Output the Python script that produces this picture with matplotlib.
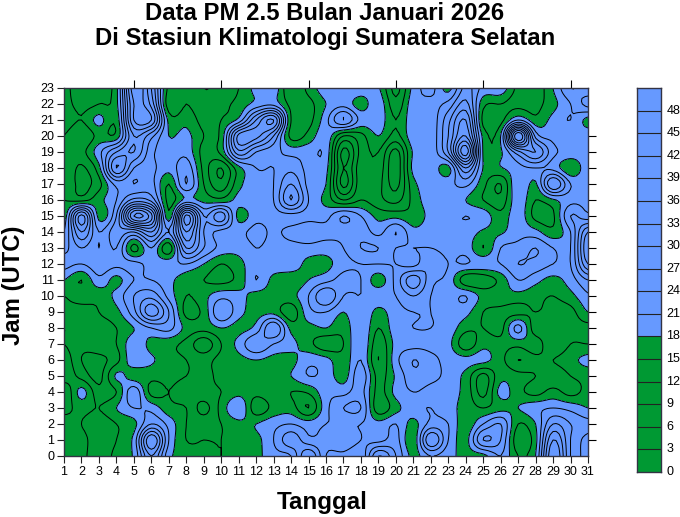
import numpy as np
import matplotlib
matplotlib.use('Agg')
import matplotlib.pyplot as plt
from matplotlib.colors import BoundaryNorm, ListedColormap

plt.rcParams['font.family'] = ['Liberation Sans', 'DejaVu Sans']

# PM 2.5, one row per hour, day 1..31
h00 = [17,16,13,16,18.5,30,19,17,16,15,16,17,20,21,30,21,20,18.5,30,24,17,21,19,17,17,21,15,18,36,24,20]
h01 = [15,16,13,15,19,36,21,15,15,15,16,17,21,26,22,22,24,21,20,22,16,30,21,17,27,24,13,17,33,24,20]
h02 = [16,15,13,15,17,24,20,15,14,15,17,18,20,21,19.5,21,21,21,19,21,17,22,21,16,21,24,15,18,27,24,22]
h03 = [14,16,15,18,21,20,16,15,11,16,21,13,16,16.5,12,20,24,24,13,17,20,21,19,17,15,17,18,20,21,20,18]
h04 = [12,19,13,15,23,14,15,13,14,15,17,16,17,15,15.5,20,20,22,14,19,21,20,19,17,11,19,16,14,16,14,16]
h05 = [17,14,11,18.5,16.5,16,16,15,14,16,17,17,17,18,21,20,16.5,23,14,18.5,23,22,20,17,11,17,16,15,13,15,16]
h06 = [17,12,11,14,20,18.5,16,15,14,16,17,18,17,17,20,19,16,21,12,20,24,22,20,19,19,16,12,14,15,17,19]
h07 = [15,13,14,15,20,17,16,14,10,15,19,24,21,19,16,13,15,21,13,19,20,20,19,13,17,16,16,17,12,15,15]
h08 = [15,14,14,15,18,21,22,17,16,18,17,19,27,17,17,18,16,21,15,20,21,21,20,16,15,14,22,13,14,14,14]
h09 = [14,13,15,17,23,32,24,14,16,24,19,17,17,13,20,21,18,21,17,20,21,21,20,19,15,14,14,15,14,14,18]
h10 = [15,17,16,19,24,26,20,15,17,20,19,17,17,17,21,27,21,21,20,21,24,21,20,21,17,17,17,16,15,17,20.5]
h11 = [18,15,20,17,21,21,19,16,15,14,16,21,17,16,18,20,22,21,16.5,22,29,22,20,13,13,16,21,19,17,19.5,24]
h12 = [22,21,23,22,22,20,20,21,18,15,17,20,20,20,17,17,20,21,21,21,20,24,21,21,20,21,24,23,21,21,33]
h13 = [20,24,21,24,14,21,13,30,24,20,19,21,20,20,20,19.5,21,24,24,21,21,21,20,20,15,21,22,24,21,21,36]
h14 = [18,30,21,26,24,30,21,36,24,20,20,22,20.5,22,23,22,22,23,20,24,19,20,21,20,17.5,17.5,20,19,16,21,33]
h15 = [16,34,17,24,45,40,16,40,24,29,17,20,20,20,20,20,24,21,17,17,16,19,20,21,20,16,20,14,14.5,24,22]
h16 = [15,14,17,21,28,26,14,19,17,16,19,20,21,30,21,17,12,15,13,11,16,20,20,18,15,13,20,15,17.5,20,20]
h17 = [15,11,14,22,21,22,15,24,15,10,17,20,21,27,20,18,5,14,13,8,17,20,20,22,16,12,21,17.5,30,21,20]
h18 = [15,11.5,17,33,24,22,19,23,14,9,17,21,21,23,20,19,6,14,14,7,19,20,17,30,17.8,17.8,20,21,20,15.5,20]
h19 = [15,14,20,27,30,22,19,20,14,16,29,24,22,20,20,20,5,13,15,8,18.5,19,27,44,17.5,17.5,26,30,22,20,20]
h20 = [15,12,16,16,30,25,18,19,15,16,34,34,27,14,16,20,12,14,18,14,20,19,27,36,17,18,45,23,20,19.5,20]
h21 = [17,15,19,16,36,36,17,17,14,15,19,30,36,15,14,20,27,20,20,15,20,19,26,33,14,14,21,16,19,21,17]
h22 = [16,14,15,17,36,32,13,15,13,14,16,19,20,14,14,18,20,16.5,20,13,20,20,22,28,16,15,14,14,17,21,25]
h23 = [16,13,14,17,38,30,14,15,12,13,15,19,20,12,16,20,21,20,18.5,11,19,22,17,25,20,20,14,13,18,24,22]

days = np.arange(1, 32)
hours = np.arange(0, 24)
levels = np.arange(0, 54, 3)
level_labels = [str(v) for v in levels[:-1]]

pm25 = np.array([h00,h01,h02,h03,h04,h05,h06,h07,h08,h09,h10,h11,h12,h13,h14,h15,h16,h17,h18,h19,h20,h21,h22,h23], dtype=float)


# catmull-rom along one axis so the contours come out round like the original
def smooth_axis(z, n):
    z = np.pad(z, ((1, 1), (0, 0)), mode='edge')
    out = []
    for i in range(1, z.shape[0] - 2):
        for t in np.arange(n) / n:
            out.append(0.5 * (2*z[i] + (z[i+1]-z[i-1])*t + (2*z[i-1]-5*z[i]+4*z[i+1]-z[i+2])*t**2
                              + (3*z[i]-z[i-1]-3*z[i+1]+z[i+2])*t**3))
    out.append(z[-2])
    return np.array(out)


n = 6
fine = smooth_axis(pm25, n)
fine = smooth_axis(fine.T, n).T
fine_x = np.linspace(1, 31, fine.shape[1])
fine_y = np.linspace(0, 23, fine.shape[0])

colors = ['#009933']*6 + ['#6699FF']*11
cmap = ListedColormap(colors)
norm = BoundaryNorm(levels, cmap.N)

fig = plt.figure(figsize=(6.8, 5.17), dpi=100)
W, H = 680, 517
ax = fig.add_axes([64/W, (H-456)/H, (588-64)/W, (456-88)/H])
ax.contourf(fine_x, fine_y, fine, levels=levels, cmap=cmap, norm=norm, extend='both')
ax.contour(fine_x, fine_y, fine, levels=levels, colors='black', linewidths=0.7)
ax.set_xlim(1, 31)
ax.set_ylim(0, 23)
ax.set_xticks(days)
ax.set_yticks(hours)
ax.tick_params(labelsize=9, length=5, width=0.8, pad=2, color='#222222')
for s in ax.spines.values():
    s.set_linewidth(1.0)
    s.set_color('#333344')

top = ax.secondary_xaxis('top')
top.set_xticks(days[4::5])
top.set_xticklabels([])
top.tick_params(length=6, width=0.8)
right = ax.secondary_yaxis('right')
right.set_yticks(hours[1:21])
right.set_yticklabels([])
right.tick_params(length=6, width=0.8)
top.spines['top'].set_visible(False)
right.spines['right'].set_visible(False)

# colour scale
cax = fig.add_axes([637/W, (H-472)/H, 24/W, (472-88)/H])
cax.pcolormesh([0, 1], levels, np.array(levels[:-1]).reshape(-1, 1), cmap=cmap, norm=norm)
cax.hlines(levels[1:-1], 0, 1, colors='#222222', linewidth=0.8)
cax.set_xticks([])
cax.set_ylim(0, 51)
cax.set_yticks(levels[:-1])
cax.set_yticklabels(level_labels)
cax.yaxis.tick_right()
cax.tick_params(length=0, labelsize=9, pad=4)
for lab in cax.get_yticklabels():
    lab.set_verticalalignment('center')
for s in cax.spines.values():
    s.set_linewidth(1.0)
    s.set_color('#333344')

fig.text(325/W, 1-14/H, 'Data PM 2.5 Bulan Januari 2026', ha='center', va='center', fontsize=17.2, fontweight='bold')
fig.text(325/W, 1-39/H, 'Di Stasiun Klimatologi Sumatera Selatan', ha='center', va='center', fontsize=17.2, fontweight='bold')
fig.text(322/W, 1-503/H, 'Tanggal', ha='center', va='center', fontsize=17.4, fontweight='bold')
fig.text(14/W, 1-285/H, 'Jam (UTC)', ha='center', va='center', rotation=90, fontsize=17.2, fontweight='bold')

plt.savefig('out.png', dpi=100)
